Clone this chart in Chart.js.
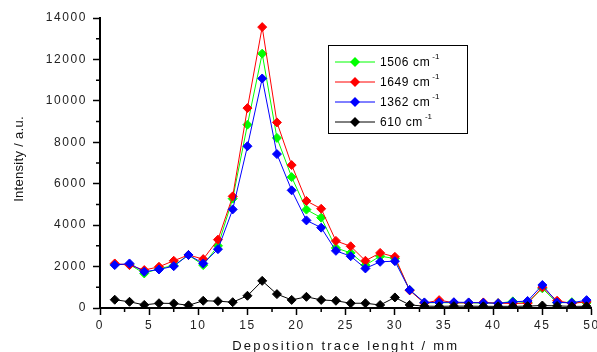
<!DOCTYPE html>
<html>
<head>
<meta charset="utf-8">
<script src="https://cdn.jsdelivr.net/npm/chart.js@4.4.1/dist/chart.umd.min.js"></script>
<style>
  html, body { margin: 0; padding: 0; background: #fff; }
  canvas { display: block; }
</style>
</head>
<body>
<canvas id="chart" width="597" height="352"></canvas>
<script>
// positions along the deposition trace (mm)
const positions = [1.5, 3, 4.5, 6, 7.5, 9, 10.5, 12, 13.5, 15, 16.5, 18, 19.5, 21, 22.5, 24, 25.5,
                   27, 28.5, 30, 31.5, 33, 34.5, 36, 37.5, 39, 40.5, 42, 43.5, 45, 46.5, 48, 49.5];

// band intensities (a.u.)
const band1506 = [2100, 2100, 1670, 1900, 2050, 2560, 2070, 3000, 5280, 8850, 12280, 8210, 6320, 4750, 4360, 2900, 2660,
                  2070, 2500, 2390, 870, 250, 260, 250, 250, 240, 230, 320, 260, 950, 250, 280, 250];
const band1649 = [2150, 2070, 1830, 1990, 2280, 2560, 2360, 3300, 5390, 9650, 13560, 8960, 6900, 5170, 4790, 3240, 2980,
                  2280, 2660, 2470, 850, 230, 380, 250, 250, 270, 230, 220, 230, 1000, 350, 220, 300];
const band1362 = [2070, 2150, 1750, 1860, 2020, 2560, 2150, 2840, 4760, 7810, 11080, 7430, 5680, 4230, 3880, 2760, 2500,
                  1910, 2230, 2260, 870, 270, 270, 280, 270, 250, 230, 290, 340, 1110, 270, 250, 380];
const band610 = [400, 300, 150, 230, 220, 130, 350, 330, 280, 590, 1310, 670, 390, 540, 390, 350, 230,
                 230, 145, 510, 150, 90, 80, 90, 90, 80, 80, 80, 90, 120, 100, 80, 80];

const seriesLabels = ['1506', '1649', '1362', '610'];
const seriesColors = ['#00ff00', '#ff0000', '#0000ff', '#000000'];

function toPoints(values) {
  return positions.map((x, i) => ({ x: x, y: values[i] }));
}

const FONT = '"Liberation Sans", Arial, sans-serif';

// tick labels in the original are drawn with wide letter spacing
const spacing = {
  id: 'spacing',
  beforeUpdate(chart) { chart.ctx.letterSpacing = '1.6px'; },
  beforeDraw(chart) { chart.ctx.letterSpacing = '1.6px'; }
};

// short minor tick marks
const minorTicks = {
  id: 'minorTicks',
  afterDraw(chart) {
    const ctx = chart.ctx;
    const xs = chart.scales.x, ys = chart.scales.y;
    ctx.save();
    ctx.strokeStyle = '#000';
    ctx.lineWidth = 1.5;
    ctx.beginPath();
    ys.ticks.forEach(t => {
      if (t.value % 2000 !== 0) {
        const y = ys.getPixelForValue(t.value);
        ctx.moveTo(ys.right - 4, y);
        ctx.lineTo(ys.right, y);
      }
    });
    xs.ticks.forEach(t => {
      if (t.value % 5 !== 0) {
        const x = xs.getPixelForValue(t.value);
        ctx.moveTo(x, xs.top);
        ctx.lineTo(x, xs.top + 4);
      }
    });
    ctx.stroke();
    ctx.restore();
  }
};

// axis titles
const axisTitles = {
  id: 'axisTitles',
  afterDraw(chart) {
    const ctx = chart.ctx;
    const area = chart.chartArea;
    ctx.save();
    ctx.fillStyle = '#111';
    ctx.font = '13px ' + FONT;
    ctx.letterSpacing = '2.2px';
    ctx.textAlign = 'center';
    ctx.textBaseline = 'alphabetic';
    ctx.fillText('Deposition trace lenght / mm', (area.left + area.right) / 2, 350);
    ctx.letterSpacing = '0.3px';
    ctx.translate(23, 159);
    ctx.rotate(-Math.PI / 2);
    ctx.fillText('Intensity / a.u.', 0, 0);
    ctx.restore();
  }
};

// boxed legend inside the plot
const boxLegend = {
  id: 'boxLegend',
  afterDraw(chart) {
    const ctx = chart.ctx;
    ctx.save();
    ctx.strokeStyle = '#000';
    ctx.lineWidth = 1;
    ctx.strokeRect(328.5, 45.5, 139, 88);
    chart.data.datasets.forEach((ds, i) => {
      const y = 62 + i * 20;
      ctx.strokeStyle = ds.borderColor;
      ctx.lineWidth = 1;
      ctx.beginPath();
      ctx.moveTo(335, y);
      ctx.lineTo(375, y);
      ctx.stroke();
      ctx.fillStyle = ds.borderColor;
      ctx.beginPath();
      ctx.moveTo(355, y - 5);
      ctx.lineTo(360, y);
      ctx.lineTo(355, y + 5);
      ctx.lineTo(350, y);
      ctx.closePath();
      ctx.fill();
      ctx.fillStyle = '#000';
      ctx.font = '12px ' + FONT;
      ctx.letterSpacing = '0.6px';
      ctx.textAlign = 'left';
      ctx.textBaseline = 'middle';
      const txt = seriesLabels[i] + ' cm';
      ctx.fillText(txt, 380, y + 1);
      const w = ctx.measureText(txt).width;
      ctx.font = '8px ' + FONT;
      ctx.letterSpacing = '0px';
      ctx.fillText('-1', 380 + w + 2, y - 5);
    });
    ctx.restore();
  }
};

const datasets = [band1506, band1649, band1362, band610].map((vals, i) => ({
  label: seriesLabels[i] + ' cm-1',
  data: toPoints(vals),
  borderColor: seriesColors[i],
  backgroundColor: seriesColors[i],
  borderWidth: 1,
  pointStyle: 'rectRot',
  pointRadius: 4.5,
  pointBorderWidth: 1,
  pointBackgroundColor: seriesColors[i],
  pointBorderColor: seriesColors[i],
  tension: 0,
  order: 3 - i
}));

new Chart(document.getElementById('chart'), {
  type: 'line',
  data: { datasets: datasets },
  plugins: [spacing, minorTicks, axisTitles, boxLegend],
  options: {
    responsive: false,
    animation: false,
    devicePixelRatio: 1,
    layout: { padding: { left: 0, right: 5, top: 18, bottom: 0 } },
    plugins: {
      legend: { display: false },
      tooltip: { enabled: false }
    },
    scales: {
      x: {
        type: 'linear',
        min: 0,
        max: 50,
        ticks: {
          stepSize: 2.5,
          autoSkip: false,
          maxRotation: 0,
          padding: 3,
          color: '#222',
          font: { family: FONT, size: 12 },
          callback: v => (v % 5 === 0 ? v : '')
        },
        grid: {
          drawOnChartArea: false,
          tickLength: 7,
          tickWidth: 1.5,
          tickColor: c => (c.tick && c.tick.value % 5 === 0 ? '#000' : 'rgba(0,0,0,0)')
        },
        border: { color: '#000', width: 2 },
        afterFit: s => { s.height = 44; s.paddingLeft = 0; s.paddingRight = 0; }
      },
      y: {
        min: 0,
        max: 14000,
        ticks: {
          stepSize: 1000,
          autoSkip: false,
          padding: 6,
          color: '#222',
          font: { family: FONT, size: 12 },
          callback: v => (v % 2000 === 0 ? v : '')
        },
        grid: {
          drawOnChartArea: false,
          tickLength: 7,
          tickWidth: 1.5,
          tickColor: c => (c.tick && c.tick.value % 2000 === 0 ? '#000' : 'rgba(0,0,0,0)')
        },
        border: { color: '#000', width: 2 },
        afterFit: s => { s.width = 100; s.paddingTop = 0; s.paddingBottom = 0; }
      }
    }
  }
});
</script>
</body>
</html>
